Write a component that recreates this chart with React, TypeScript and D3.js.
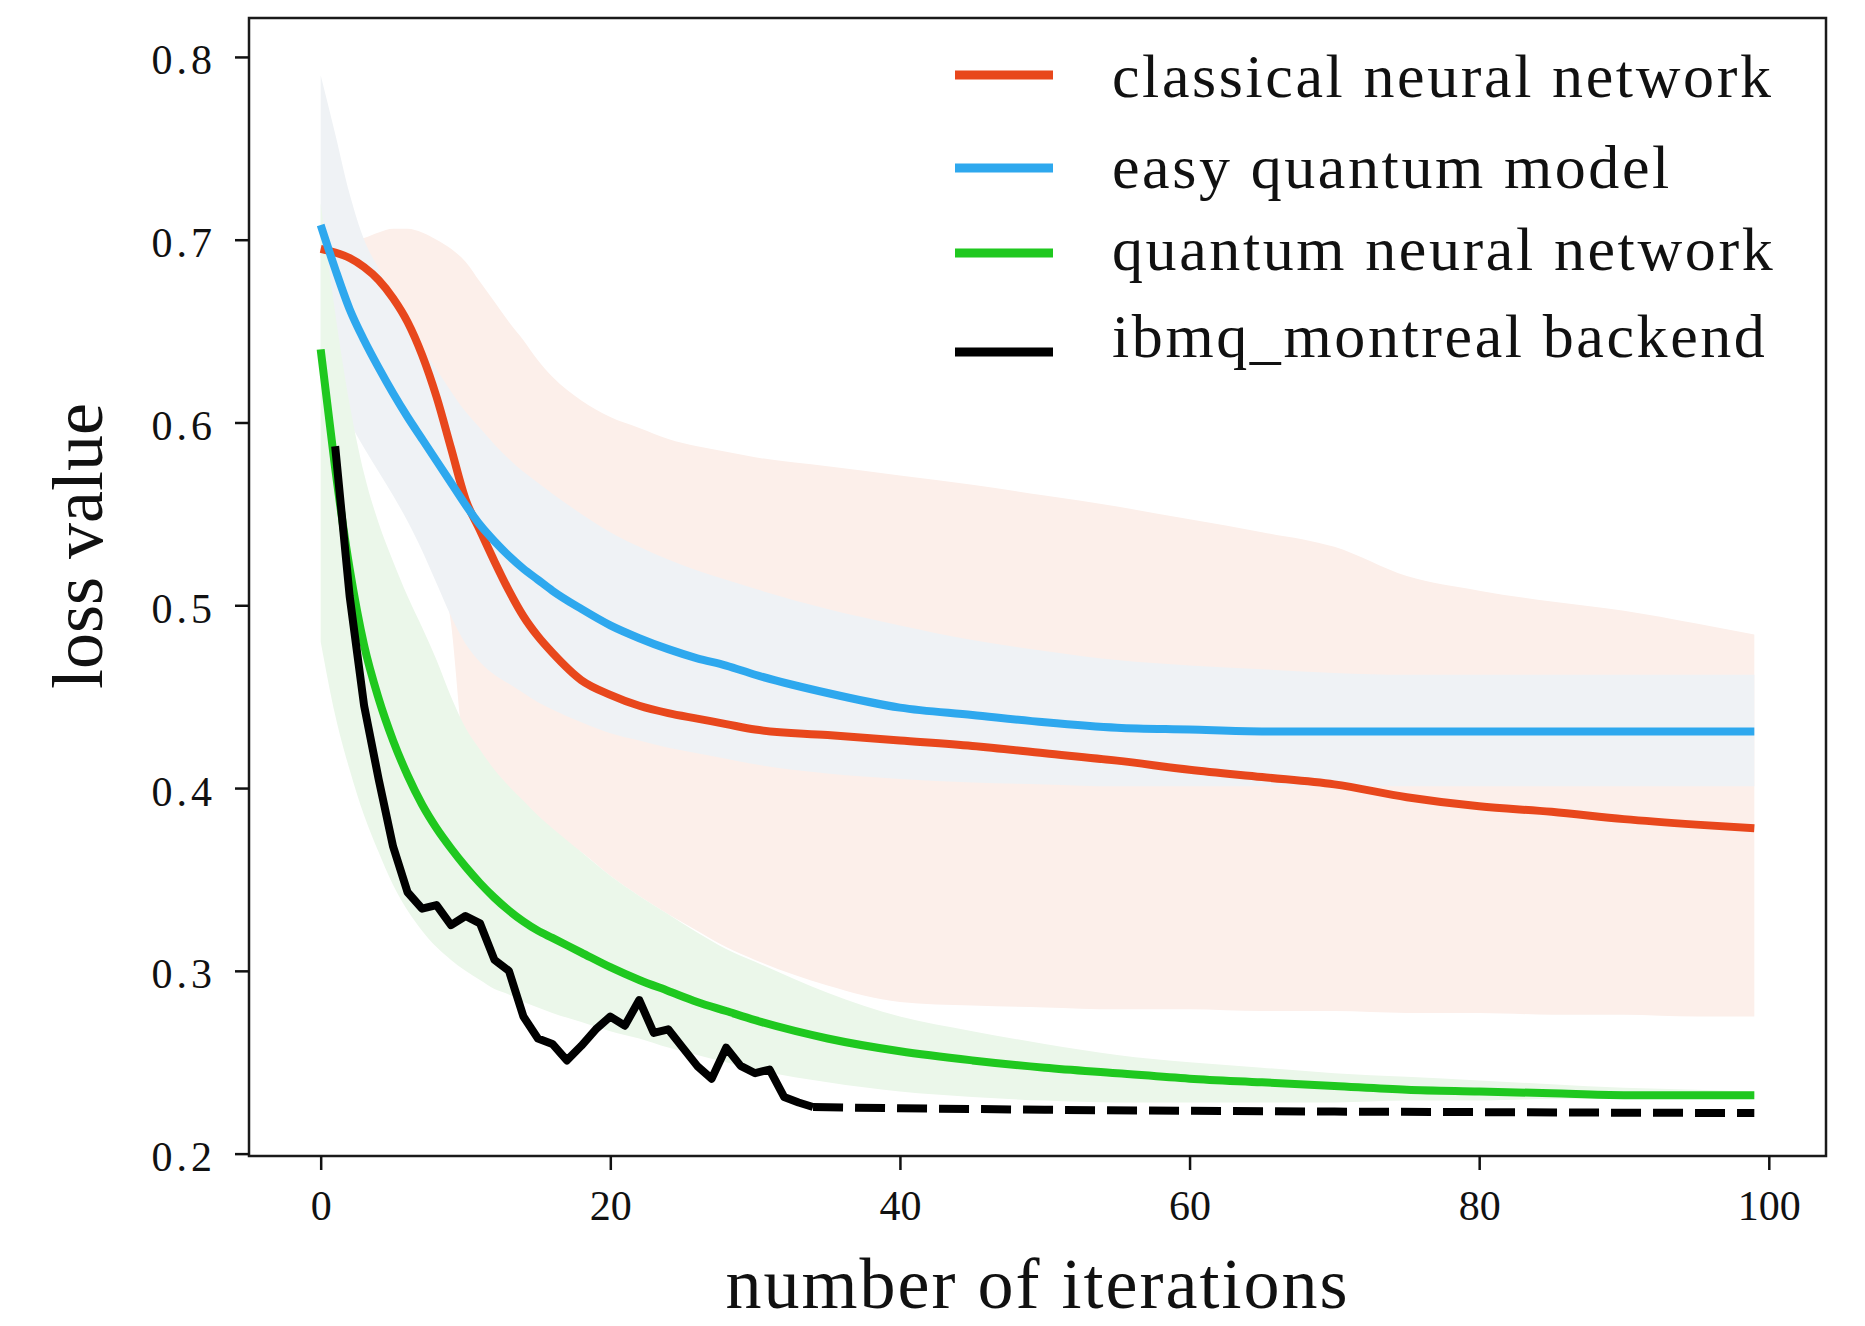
import React, { useEffect, useRef } from 'react';
import * as d3 from 'd3';

const iters = [0, 1, 2, 3, 4, 5, 6, 7, 8, 9, 10, 11, 12, 13, 14, 15, 16, 18, 20, 22, 24, 26, 28, 30, 35, 40, 45, 50, 55, 60, 65, 70, 75, 80, 85, 90, 95, 99];

const classicalLoss = [0.695, 0.693, 0.690, 0.685, 0.678, 0.668, 0.655, 0.637, 0.614, 0.586, 0.558, 0.541, 0.524, 0.508, 0.494, 0.483, 0.474, 0.459, 0.451, 0.445, 0.441, 0.438, 0.435, 0.432, 0.429, 0.426, 0.423, 0.419, 0.415, 0.410, 0.406, 0.402, 0.395, 0.390, 0.387, 0.383, 0.380, 0.378];
const classicalUpper = [0.700, 0.700, 0.700, 0.701, 0.704, 0.706, 0.706, 0.704, 0.700, 0.695, 0.688, 0.677, 0.666, 0.655, 0.645, 0.634, 0.625, 0.612, 0.603, 0.597, 0.591, 0.587, 0.584, 0.581, 0.576, 0.571, 0.566, 0.560, 0.554, 0.547, 0.540, 0.532, 0.516, 0.508, 0.502, 0.497, 0.490, 0.484];
const classicalLower = [0.690, 0.686, 0.680, 0.670, 0.655, 0.635, 0.610, 0.578, 0.540, 0.490, 0.420, 0.413, 0.405, 0.396, 0.388, 0.381, 0.375, 0.365, 0.352, 0.341, 0.331, 0.322, 0.313, 0.306, 0.292, 0.283, 0.281, 0.280, 0.279, 0.279, 0.278, 0.278, 0.277, 0.277, 0.276, 0.276, 0.275, 0.275];

const easyLoss = [0.708, 0.684, 0.662, 0.645, 0.630, 0.616, 0.603, 0.591, 0.579, 0.567, 0.555, 0.544, 0.535, 0.527, 0.520, 0.514, 0.508, 0.498, 0.489, 0.482, 0.476, 0.471, 0.467, 0.462, 0.452, 0.444, 0.440, 0.436, 0.433, 0.432, 0.431, 0.431, 0.431, 0.431, 0.431, 0.431, 0.431, 0.431];
const easyUpper = [0.790, 0.758, 0.725, 0.700, 0.684, 0.668, 0.654, 0.641, 0.629, 0.617, 0.606, 0.597, 0.588, 0.580, 0.573, 0.567, 0.561, 0.550, 0.540, 0.532, 0.525, 0.519, 0.514, 0.509, 0.498, 0.489, 0.481, 0.475, 0.470, 0.467, 0.465, 0.463, 0.462, 0.462, 0.462, 0.462, 0.462, 0.462];
const easyLower = [0.630, 0.615, 0.600, 0.586, 0.573, 0.560, 0.546, 0.530, 0.512, 0.494, 0.479, 0.469, 0.462, 0.457, 0.452, 0.447, 0.443, 0.436, 0.430, 0.426, 0.422, 0.419, 0.416, 0.413, 0.408, 0.405, 0.403, 0.402, 0.401, 0.401, 0.401, 0.401, 0.401, 0.401, 0.401, 0.401, 0.401, 0.401];

const qnnLoss = [0.640, 0.575, 0.520, 0.478, 0.449, 0.426, 0.407, 0.391, 0.378, 0.367, 0.357, 0.348, 0.340, 0.333, 0.327, 0.322, 0.318, 0.310, 0.302, 0.295, 0.289, 0.283, 0.278, 0.273, 0.263, 0.256, 0.251, 0.247, 0.244, 0.241, 0.239, 0.237, 0.235, 0.234, 0.233, 0.232, 0.232, 0.232];
const qnnUpper = [0.720, 0.660, 0.610, 0.572, 0.545, 0.524, 0.505, 0.488, 0.470, 0.450, 0.433, 0.421, 0.410, 0.401, 0.393, 0.385, 0.378, 0.365, 0.352, 0.341, 0.331, 0.321, 0.312, 0.305, 0.288, 0.275, 0.267, 0.260, 0.254, 0.250, 0.247, 0.244, 0.242, 0.240, 0.238, 0.236, 0.235, 0.234];
const qnnLower = [0.480, 0.440, 0.410, 0.385, 0.365, 0.347, 0.333, 0.322, 0.313, 0.306, 0.300, 0.295, 0.290, 0.287, 0.283, 0.280, 0.277, 0.272, 0.267, 0.263, 0.258, 0.254, 0.250, 0.246, 0.239, 0.234, 0.231, 0.229, 0.228, 0.228, 0.228, 0.228, 0.229, 0.229, 0.230, 0.230, 0.231, 0.231];

// hardware run, one value per iteration, then the flat dashed tail
const ibmqIters = [1, 2, 3, 4, 5, 6, 7, 8, 9, 10, 11, 12, 13, 14, 15, 16, 17, 18, 19, 20, 21, 22, 23, 24, 25, 26, 27, 28, 29, 30, 31, 32, 33, 34];
const ibmqLoss = [0.587, 0.505, 0.445, 0.405, 0.368, 0.343, 0.334, 0.336, 0.325, 0.330, 0.326, 0.306, 0.300, 0.275, 0.263, 0.260, 0.251, 0.259, 0.268, 0.275, 0.270, 0.284, 0.266, 0.268, 0.258, 0.248, 0.241, 0.258, 0.248, 0.244, 0.246, 0.231, 0.228, 0.2255];
const ibmqTailIters = [34, 40, 50, 60, 70, 80, 90, 99];
const ibmqTailLoss = [0.2255, 0.2248, 0.2240, 0.2234, 0.2230, 0.2227, 0.2224, 0.2222];

const xTicks = [0, 20, 40, 60, 80, 100];
const yTicks = [0.2, 0.3, 0.4, 0.5, 0.6, 0.7, 0.8];
const legendLabels = ['classical neural network', 'easy quantum model', 'quantum neural network', 'ibmq_montreal backend'];

const RED = '#e8471c';
const BLUE = '#2ea8ee';
const GREEN = '#1fc81f';
const BLACK = '#000000';

const W = 1865;
const H = 1326;
const box = { left: 249, right: 1826, top: 18, bottom: 1156 };
const FONT = '"Liberation Serif", "DejaVu Serif", serif';

function App() {
  const svgRef = useRef<SVGSVGElement>(null);

  useEffect(() => {
    const svg = d3.select(svgRef.current);
    svg.selectAll('*').remove();

    const x = d3.scaleLinear().domain([-4.95, 103.95]).range([box.left, box.right]);
    const y = d3.scaleLinear().domain([0.1987, 0.8213]).range([box.bottom, box.top]);
    const idx = d3.range(iters.length);

    // std bands, drawn opaque in plotting order
    const bands = [
      { upper: classicalUpper, lower: classicalLower, fill: '#fcefea' },
      { upper: easyUpper, lower: easyLower, fill: '#eff2f5' },
      { upper: qnnUpper, lower: qnnLower, fill: '#ebf7ea' },
    ];
    bands.forEach(b => {
      const band = d3.area<number>()
        .x(i => x(iters[i]))
        .y0(i => y(b.lower[i]))
        .y1(i => y(b.upper[i]))
        .curve(d3.curveMonotoneX);
      svg.append('path').attr('d', band(idx)).attr('fill', b.fill);
    });

    const smooth = [
      { values: classicalLoss, color: RED },
      { values: easyLoss, color: BLUE },
      { values: qnnLoss, color: GREEN },
    ];
    smooth.forEach(s => {
      const ln = d3.line<number>()
        .x(i => x(iters[i]))
        .y(i => y(s.values[i]))
        .curve(d3.curveMonotoneX);
      svg.append('path')
        .attr('d', ln(idx))
        .attr('fill', 'none')
        .attr('stroke', s.color)
        .attr('stroke-width', 8)
        .attr('stroke-linejoin', 'round');
    });

    const jag = d3.line<number>()
      .x(i => x(ibmqIters[i]))
      .y(i => y(ibmqLoss[i]));
    svg.append('path')
      .attr('d', jag(d3.range(ibmqIters.length)))
      .attr('fill', 'none')
      .attr('stroke', BLACK)
      .attr('stroke-width', 8)
      .attr('stroke-linejoin', 'round');

    const tail = d3.line<number>()
      .x(i => x(ibmqTailIters[i]))
      .y(i => y(ibmqTailLoss[i]));
    svg.append('path')
      .attr('d', tail(d3.range(ibmqTailIters.length)))
      .attr('fill', 'none')
      .attr('stroke', BLACK)
      .attr('stroke-width', 8)
      .attr('stroke-dasharray', '30 12');

    // frame
    svg.append('rect')
      .attr('x', box.left).attr('y', box.top)
      .attr('width', box.right - box.left).attr('height', box.bottom - box.top)
      .attr('fill', 'none').attr('stroke', '#1a1a1a').attr('stroke-width', 2.5);

    const xAxis = d3.axisBottom(x).tickValues(xTicks).tickSize(14).tickSizeOuter(0).tickFormat(d3.format('d'));
    const gx = svg.append('g').attr('transform', `translate(0,${box.bottom})`).call(xAxis);
    gx.select('.domain').remove();
    gx.selectAll('line').attr('stroke', '#111').attr('stroke-width', 2.5);
    gx.selectAll('text')
      .attr('y', 64).attr('dy', null)
      .attr('font-family', FONT).attr('font-size', 42).attr('fill', '#111');

    const yAxis = d3.axisLeft(y).tickValues(yTicks).tickSize(14).tickSizeOuter(0).tickFormat(d3.format('.1f'));
    const gy = svg.append('g').attr('transform', `translate(${box.left},0)`).call(yAxis);
    gy.select('.domain').remove();
    gy.selectAll('line').attr('stroke', '#111').attr('stroke-width', 2.5);
    gy.selectAll('text')
      .attr('x', -33).attr('dy', 17)
      .attr('font-family', FONT).attr('font-size', 42).attr('fill', '#111')
      .attr('letter-spacing', 4);

    svg.append('text')
      .attr('x', (box.left + box.right) / 2).attr('y', 1308)
      .attr('text-anchor', 'middle')
      .attr('font-family', FONT).attr('font-size', 72).attr('letter-spacing', 2).attr('fill', '#111')
      .text('number of iterations');

    svg.append('text')
      .attr('transform', 'translate(102,546) rotate(-90)')
      .attr('text-anchor', 'middle')
      .attr('font-family', FONT).attr('font-size', 72).attr('fill', '#111')
      .text('loss value');

    // legend, no frame
    const legendColors = [RED, BLUE, GREEN, BLACK];
    const legendLineY = [75, 168, 253, 352];
    const legendTextY = [97, 188, 270, 357];
    const lg = svg.append('g');
    legendLabels.forEach((label, i) => {
      lg.append('line')
        .attr('x1', 955).attr('x2', 1053)
        .attr('y1', legendLineY[i]).attr('y2', legendLineY[i])
        .attr('stroke', legendColors[i]).attr('stroke-width', 9);
      lg.append('text')
        .attr('x', 1112).attr('y', legendTextY[i])
        .attr('font-family', FONT).attr('font-size', 62).attr('letter-spacing', 2.6).attr('fill', '#111')
        .text(label);
    });
  }, []);

  return (
    <svg
      ref={svgRef}
      width={W}
      height={H}
      style={{ position: 'absolute', left: 0, top: 0, background: '#fff' }}
    />
  );
}

export default App;
